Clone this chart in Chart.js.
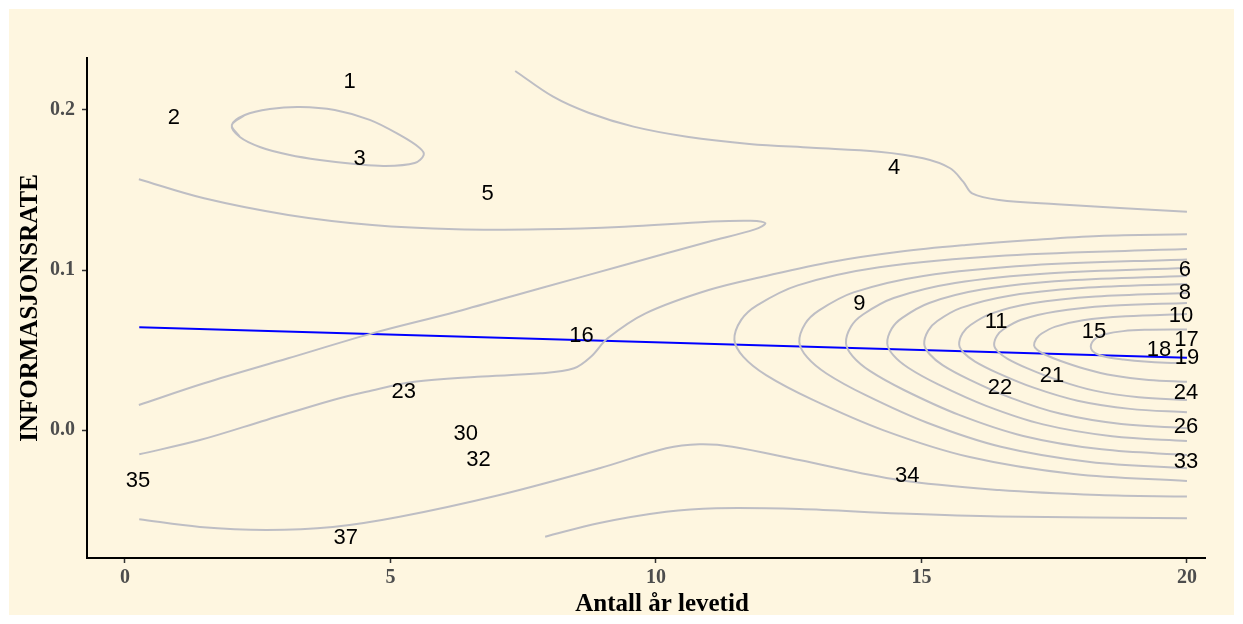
<!DOCTYPE html>
<html>
<head>
<meta charset="utf-8">
<script src="https://cdn.jsdelivr.net/npm/chart.js@4.4.1/dist/chart.umd.min.js"></script>
<style>
  body { margin: 0; background: #ffffff; }
  #wrap { width: 1243px; height: 624px; }
</style>
</head>
<body>
<div id="wrap"><canvas id="chart" width="1243" height="624"></canvas></div>
<script>
const xTicks = [0, 5, 10, 15, 20];
const yTicks = [0.0, 0.1, 0.2];
const xTitle = "Antall år levetid";
const yTitle = "INFORMASJONSRATE";

// regression line (lm fit)
const fitX = [0.269, 20];
const fitY = [0.0642, 0.0452];

// contour paths, [x, y] in data units
const contourLoop = [[2.013,0.1906],[2.258,0.1969],[2.728,0.2006],[3.293,0.2019],[3.951,0.2000],[4.610,0.1938],[5.174,0.1844],[5.550,0.1763],[5.626,0.1719],[5.456,0.1669],[4.892,0.1650],[4.327,0.1663],[3.669,0.1688],[3.104,0.1719],[2.540,0.1769],[2.164,0.1831],[2.013,0.1906]];
const contourTop = [[7.349,0.2244],[8.064,0.2083],[8.730,0.1983],[9.577,0.1896],[10.583,0.1833],[11.759,0.1788],[12.935,0.1764],[14.196,0.1739],[15.033,0.1698],[15.541,0.1636],[15.786,0.1552],[15.955,0.1479],[16.463,0.1438],[17.554,0.1411],[18.815,0.1386],[20,0.1364]];
const contourFold = [[0.262,0.1567],[1.490,0.1448],[3.074,0.1344],[4.657,0.1281],[6.241,0.1254],[7.825,0.1254],[9.407,0.1271],[10.992,0.1302],[11.784,0.1308],[12.060,0.1292],[11.863,0.1254],[10.992,0.1177],[9.407,0.1031],[7.825,0.0886],[6.241,0.0739],[4.657,0.0604],[3.074,0.0448],[1.490,0.0292],[0.262,0.0156]];
const contourMid = [[0.269,-0.0152],[1.411,-0.0063],[2.666,0.0063],[3.919,0.0188],[4.548,0.0239],[5.449,0.0302],[6.636,0.0333],[7.825,0.0354],[8.457,0.0386],[8.775,0.0458],[9.091,0.0573],[9.804,0.0729],[10.992,0.0875],[12.073,0.0963],[13.326,0.1052],[14.581,0.1114],[15.836,0.1156],[17.084,0.1188],[18.344,0.1213],[20,0.1223]];
const ring1 = [[20,0.0628],[19.2,0.0626],[18.8,0.0618],[18.45,0.0598],[18.3,0.0578],[18.22,0.0552],[18.188,0.0522],[18.22,0.0495],[18.32,0.0473],[18.5,0.0455],[18.8,0.0441],[19.2,0.0428],[19.6,0.0421],[20,0.0419]];
const ring2 = [[20,0.0725],[18.848,0.0711],[18.042,0.0686],[17.524,0.0646],[17.265,0.0603],[17.164,0.0571],[17.121,0.0528],[17.179,0.0501],[17.323,0.0472],[17.610,0.0433],[18.071,0.0383],[18.618,0.0340],[19.280,0.0313],[20,0.0302]];
const ring3 = [[20,0.0794],[18.548,0.0776],[17.531,0.0741],[16.877,0.0689],[16.551,0.0631],[16.423,0.0589],[16.369,0.0531],[16.442,0.0490],[16.623,0.0445],[16.986,0.0387],[17.567,0.0312],[18.257,0.0246],[19.092,0.0205],[20,0.0188]];
const ring4 = [[20,0.0856],[18.284,0.0834],[17.083,0.0792],[16.311,0.0727],[15.925,0.0656],[15.774,0.0605],[15.710,0.0534],[15.796,0.0483],[16.010,0.0428],[16.439,0.0356],[17.126,0.0263],[17.941,0.0183],[18.928,0.0132],[20,0.0111]];
const ring5 = [[20,0.0913],[18.021,0.0887],[16.635,0.0838],[15.745,0.0763],[15.299,0.0681],[15.126,0.0621],[15.052,0.0538],[15.151,0.0475],[15.398,0.0406],[15.893,0.0317],[16.685,0.0201],[17.625,0.0101],[18.763,0.0037],[20,0.0011]];
const ring6 = [[20,0.0963],[17.742,0.0934],[16.162,0.0879],[15.146,0.0794],[14.638,0.0701],[14.441,0.0634],[14.356,0.0541],[14.469,0.0468],[14.751,0.0389],[15.315,0.0285],[16.219,0.0151],[17.291,0.0035],[18.589,-0.0039],[20,-0.0069]];
const ring7 = [[20,0.1013],[17.431,0.0980],[15.633,0.0919],[14.477,0.0825],[13.899,0.0722],[13.674,0.0647],[13.578,0.0544],[13.706,0.0460],[14.028,0.0369],[14.670,0.0250],[15.697,0.0096],[16.917,-0.0037],[18.395,-0.0121],[20,-0.0156]];
const ring8 = [[20,0.1066],[17.080,0.1030],[15.036,0.0963],[13.722,0.0860],[13.065,0.0746],[12.810,0.0664],[12.700,0.0550],[12.846,0.0455],[13.211,0.0353],[13.941,0.0219],[15.109,0.0045],[16.496,-0.0105],[18.175,-0.0200],[20,-0.0239]];
const ring9 = [[20,0.1131],[16.591,0.1091],[14.204,0.1017],[12.670,0.0904],[11.903,0.0779],[11.605,0.0688],[11.477,0.0563],[11.647,0.0457],[12.074,0.0343],[12.926,0.0193],[14.290,-0.0002],[15.909,-0.0169],[17.869,-0.0275],[20,-0.0319]];
const contourLow = [[0.269,-0.0558],[1.411,-0.0606],[2.666,-0.0625],[3.913,-0.0606],[5.174,-0.0542],[7.055,-0.0406],[8.937,-0.0239],[10.192,-0.0114],[10.818,-0.0089],[11.439,-0.0104],[12.699,-0.0188],[14.581,-0.0313],[16.463,-0.0375],[18.344,-0.0406],[20,-0.0416]];
const contourBottom = [[7.913,-0.0667],[8.937,-0.0581],[10.192,-0.0511],[11.133,-0.0489],[12.699,-0.0494],[14.581,-0.0522],[16.463,-0.0541],[20,-0.0552]];

const openContours = [contourTop, contourFold, contourMid, ring1, ring2, ring3, ring4, ring5, ring6, ring7, ring8, ring9, contourLow, contourBottom];

// point labels
const labelText = ["1","2","3","4","5","6","8","9","10","11","15","16","17","18","19","21","22","23","24","26","30","32","33","34","35","37"];
const labelX = [4.233,0.922,4.421,14.487,6.830,19.962,19.962,13.829,19.887,16.406,18.250,8.598,19.99,19.473,20.0,17.460,16.481,5.249,19.981,19.981,6.416,6.660,19.981,14.732,0.245,4.158];
const labelY = [0.2175,0.1950,0.1694,0.1640,0.1475,0.1000,0.0856,0.0788,0.0713,0.0675,0.0613,0.0588,0.0563,0.0500,0.0450,0.0338,0.0263,0.0238,0.0231,0.0019,-0.0025,-0.0188,-0.0200,-0.0288,-0.0319,-0.0675];

const CREAM = "#FEF6E0";
const GREY = "rgb(190,190,196)";
const SERIF = "'Liberation Serif', 'Times New Roman', serif";
const serifBold = (size) => ({ family: SERIF, size: size, weight: "bold" });

const backgroundPlugin = {
  id: "bg",
  beforeDraw(chart) {
    const { ctx, width, height } = chart;
    ctx.save();
    ctx.fillStyle = "#ffffff";
    ctx.fillRect(0, 0, width, height);
    ctx.fillStyle = CREAM;
    ctx.fillRect(9, 9, width - 18, height - 18);
    ctx.restore();
  },
};

const labelPlugin = {
  id: "pointLabels",
  afterDatasetsDraw(chart) {
    const { ctx, scales } = chart;
    ctx.save();
    ctx.font = "22px 'Liberation Sans', Arial, sans-serif";
    ctx.fillStyle = "#000000";
    ctx.textAlign = "center";
    ctx.textBaseline = "middle";
    labelText.forEach((t, i) => {
      ctx.fillText(t, scales.x.getPixelForValue(labelX[i]), scales.y.getPixelForValue(labelY[i]));
    });
    ctx.restore();
  },
};

// x title sits a little right of the panel centre in the original
const xTitlePlugin = {
  id: "xTitle",
  afterDraw(chart) {
    const { ctx, chartArea, height } = chart;
    ctx.save();
    ctx.font = "bold 25px " + SERIF;
    ctx.fillStyle = "#000000";
    ctx.textAlign = "center";
    ctx.textBaseline = "middle";
    ctx.fillText(xTitle, (chartArea.left + chartArea.right) / 2 + 16, height - 19);
    ctx.restore();
  },
};

const toPoints = (path) => path.map(([x, y]) => ({ x, y }));
const contourStyle = { borderColor: GREY, borderWidth: 2, tension: 0.35 };

// closed loop: wrap one point on each side so the seam is smooth
const n = contourLoop.length;
const loopWrapped = [contourLoop[n - 2], ...contourLoop, contourLoop[1]];

const datasets = [{ data: toPoints(loopWrapped), ...contourStyle }];
openContours.forEach((path) => datasets.push({ data: toPoints(path), ...contourStyle }));
datasets.push({
  data: fitX.map((x, i) => ({ x, y: fitY[i] })),
  borderColor: "#0000FF",
  borderWidth: 2,
  tension: 0,
});

new Chart(document.getElementById("chart").getContext("2d"), {
  type: "scatter",
  data: { datasets },
  options: {
    responsive: false,
    animation: false,
    devicePixelRatio: 1,
    showLine: true,
    elements: { point: { radius: 0 }, line: { fill: false } },
    layout: { padding: { top: 58, right: 38, left: 0, bottom: 0 } },
    plugins: { legend: { display: false }, tooltip: { enabled: false } },
    scales: {
      x: {
        type: "linear",
        min: -0.715,
        max: 20.34,
        afterBuildTicks: (s) => { s.ticks = xTicks.map((v) => ({ value: v })); },
        afterFit: (s) => { s.height = 66; },
        grid: { display: true, drawOnChartArea: false, drawTicks: true, tickLength: 5, tickColor: "#333333", tickWidth: 1.5 },
        border: { display: true, color: "#000000", width: 2 },
        ticks: { color: "#4D4D4D", font: serifBold(20), padding: 3, autoSkip: false, maxRotation: 0 },
        title: { display: false },
      },
      y: {
        type: "linear",
        min: -0.08,
        max: 0.2325,
        afterBuildTicks: (s) => { s.ticks = yTicks.map((v) => ({ value: v })); },
        afterFit: (s) => { s.width = 87; },
        grid: { display: true, drawOnChartArea: false, drawTicks: true, tickLength: 5, tickColor: "#333333", tickWidth: 1.5 },
        border: { display: true, color: "#000000", width: 2 },
        ticks: { color: "#4D4D4D", font: serifBold(20), padding: 7, callback: (v) => Number(v).toFixed(1) },
        title: { display: true, text: yTitle, color: "#000000", font: serifBold(25), padding: { top: 16, bottom: 0 } },
      },
    },
  },
  plugins: [backgroundPlugin, labelPlugin, xTitlePlugin],
});
</script>
</body>
</html>
